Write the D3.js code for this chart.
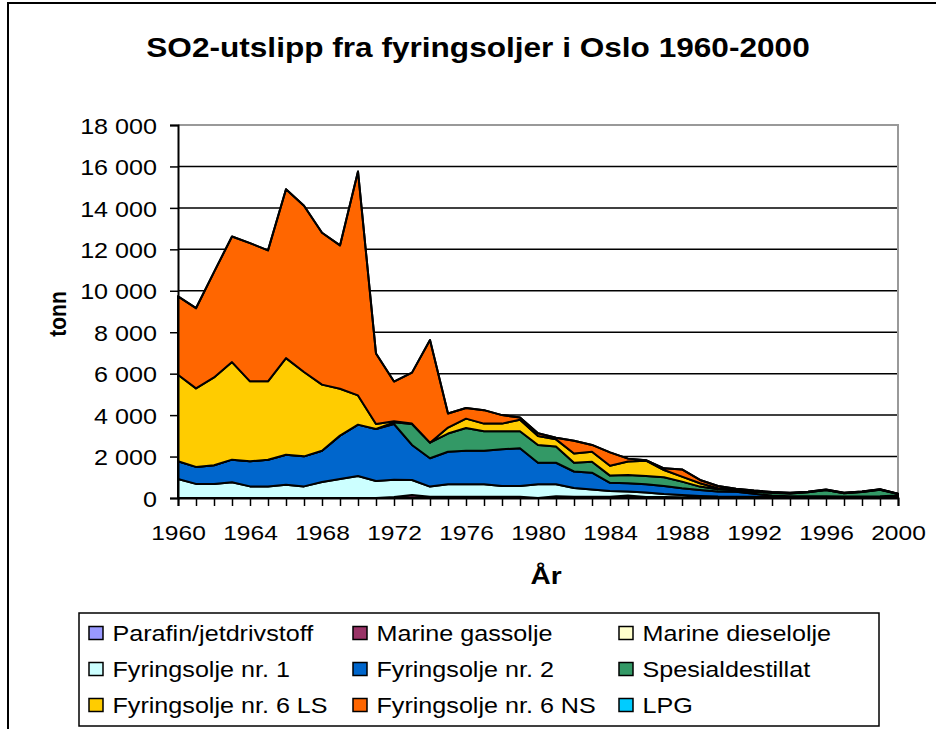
<!DOCTYPE html>
<html>
<head>
<meta charset="utf-8">
<script src="https://cdn.jsdelivr.net/npm/d3@7"></script>
<style>
  html, body { margin: 0; padding: 0; background: #fff; }
  svg text { font-family: "Liberation Sans", Arial, sans-serif; }
</style>
</head>
<body>
<svg id="chart" width="936" height="729"></svg>
<script>
const years = [1960,1961,1962,1963,1964,1965,1966,1967,1968,1969,1970,1971,1972,1973,1974,1975,1976,1977,1978,1979,1980,1981,1982,1983,1984,1985,1986,1987,1988,1989,1990,1991,1992,1993,1994,1995,1996,1997,1998,1999,2000];

const parafin      = [0,0,0,0,0,0,0,0,0,0,0,0,0,0,0,0,0,0,0,0,0,0,0,0,0,0,0,0,0,0,0,0,0,0,0,0,0,0,0,0,0];
const marineGass   = [0,0,0,0,0,0,0,0,0,0,0,0,50,150,60,60,60,60,60,60,0,80,60,60,60,120,50,50,40,30,30,30,30,20,20,20,20,20,20,20,20];
const marineDiesel = [0,0,0,0,0,0,0,0,0,0,0,0,0,0,0,0,0,0,0,0,0,0,0,0,0,0,0,0,0,0,0,0,0,0,0,0,0,0,0,0,0];
const fyr1         = [920,680,680,760,560,560,640,560,770,920,1060,820,830,720,490,600,600,600,520,520,660,580,420,350,280,190,210,140,100,70,40,30,30,30,30,30,30,30,30,40,80];
const fyr2         = [850,820,900,1090,1210,1290,1450,1450,1510,2090,2480,2510,2690,1690,1370,1570,1620,1620,1770,1820,1040,1040,800,810,390,400,400,390,330,290,240,240,140,70,30,30,30,20,20,20,20];
const spesial      = [0,0,0,0,0,0,0,0,0,0,0,0,80,1010,750,880,1100,940,870,820,860,780,420,530,350,400,400,420,320,160,110,80,100,130,140,200,300,160,220,320,70];
const fyr6LS       = [4180,3790,4240,4710,3860,3780,4660,4070,3190,2260,1410,240,50,20,0,290,450,370,370,560,430,350,450,480,480,650,740,350,240,160,50,40,30,20,10,10,10,10,10,10,10];
const fyr6NS       = [3780,3870,5080,6060,6670,6320,8150,8020,7330,6920,10810,3400,1920,2460,4950,680,510,650,410,110,130,80,610,330,640,140,20,80,350,160,110,30,30,20,20,10,20,10,10,10,10];
const lpg          = [0,0,0,0,0,0,0,0,0,0,0,0,0,0,0,0,0,0,0,0,0,0,0,0,0,0,0,0,0,0,0,0,0,0,0,0,0,0,0,0,0];

const seriesNames = ["Parafin/jetdrivstoff","Marine gassolje","Marine dieselolje","Fyringsolje nr. 1","Fyringsolje nr. 2","Spesialdestillat","Fyringsolje nr. 6 LS","Fyringsolje nr. 6 NS","LPG"];
const seriesColors = ["#9999FF","#993366","#FFFFCC","#CCFFFF","#0066CC","#339966","#FFCC00","#FF6600","#00CCFF"];
const seriesValues = [parafin, marineGass, marineDiesel, fyr1, fyr2, spesial, fyr6LS, fyr6NS, lpg];

const yTicks = [0,2000,4000,6000,8000,10000,12000,14000,16000,18000];
const xTickLabels = [1960,1964,1968,1972,1976,1980,1984,1988,1992,1996,2000];

const titleText = "SO2-utslipp fra fyringsoljer i Oslo 1960-2000";
const yTitle = "tonn";
const xTitle = "År";

const SX = 1.17; // horizontal stretch of the reference's lettering
const svg = d3.select("#chart");
const font = '"Liberation Sans", Arial, sans-serif';

// outer chart border
svg.append("rect").attr("x", 8).attr("y", 3).attr("width", 960).attr("height", 760)
  .attr("fill", "#fff").attr("stroke", "#000").attr("stroke-width", 2);

const x = d3.scaleLinear().domain([1960, 2000]).range([178, 898]);
const y = d3.scaleLinear().domain([0, 18000]).range([498, 125]);

// gridlines
svg.append("g").selectAll("line").data(yTicks.filter(d => d > 0 && d < 18000)).join("line")
  .attr("x1", x(1960)).attr("x2", x(2000)).attr("y1", d => y(d)).attr("y2", d => y(d))
  .attr("stroke", "#000").attr("stroke-width", 1.5);

// plot border (gray) top and right
svg.append("path")
  .attr("d", `M${x(1960)},${y(18000)}H${x(2000)}V${y(0)}`)
  .attr("fill", "none").attr("stroke", "#999").attr("stroke-width", 2);

// stacked data
const table = years.map((yr, i) => {
  const o = { year: yr };
  seriesNames.forEach((n, k) => { o[n] = seriesValues[k][i]; });
  return o;
});
const layers = d3.stack().keys(seriesNames)(table);

const area = d3.area()
  .x(d => x(d.data.year))
  .y0(d => y(d[0]))
  .y1(d => y(d[1]));

svg.append("g").selectAll("path").data(layers).join("path")
  .attr("d", area)
  .attr("fill", (d, i) => seriesColors[i])
  .attr("stroke", "#000").attr("stroke-width", 2).attr("stroke-linejoin", "round");

// y axis
const yAxis = d3.axisLeft(y).tickValues(yTicks).tickSize(8)
  .tickFormat(d => d3.format(",")(d).replace(/,/g, " "));
const gy = svg.append("g").attr("transform", `translate(${x(1960)},0)`).call(yAxis);
gy.select(".domain").attr("stroke", "#000").attr("stroke-width", 2);
gy.selectAll(".tick line").attr("stroke", "#000").attr("stroke-width", 1.5);
gy.selectAll(".tick text")
  .attr("x", 0).attr("dy", "0.38em")
  .attr("transform", `translate(-21,0) scale(${SX},1)`)
  .attr("text-anchor", "end")
  .attr("font-family", font).attr("font-size", 21.5).attr("fill", "#000");

// x axis
const xAxis = d3.axisBottom(x).tickValues(years).tickSize(8).tickPadding(19)
  .tickFormat(d => xTickLabels.includes(d) ? String(d) : "");
const gx = svg.append("g").attr("transform", `translate(0,${y(0)})`).call(xAxis);
gx.select(".domain").attr("stroke", "#000").attr("stroke-width", 2);
gx.selectAll(".tick line").attr("stroke", "#000").attr("stroke-width", 1.5);
gx.selectAll(".tick text")
  .attr("transform", `scale(${SX},1)`)
  .attr("font-family", font).attr("font-size", 21).attr("fill", "#000");

// title
svg.append("text").attr("transform", `translate(478,57) scale(${SX},1)`).attr("text-anchor", "middle")
  .attr("font-family", font).attr("font-size", 27).attr("font-weight", "bold").text(titleText);

// axis titles
svg.append("text").attr("transform", `translate(57,314) scale(${SX},1) rotate(-90)`)
  .attr("text-anchor", "middle").attr("dy", "0.35em")
  .attr("font-family", font).attr("font-size", 21).attr("font-weight", "bold").text(yTitle);
svg.append("text").attr("transform", `translate(546,584) scale(${SX},1)`).attr("text-anchor", "middle")
  .attr("font-family", font).attr("font-size", 24).attr("font-weight", "bold").text(xTitle);

// legend
const lg = svg.append("g");
lg.append("rect").attr("x", 79).attr("y", 613).attr("width", 800).attr("height", 113)
  .attr("fill", "#fff").attr("stroke", "#000").attr("stroke-width", 1.5);
const colX = [89, 353, 619];
const rowY = [633, 669, 705];
seriesNames.forEach((n, i) => {
  const cx = colX[i % 3], cy = rowY[Math.floor(i / 3)];
  lg.append("rect").attr("x", cx).attr("y", cy - 6.5).attr("width", 14).attr("height", 13)
    .attr("fill", seriesColors[i]).attr("stroke", "#000").attr("stroke-width", 1.5);
  lg.append("text").attr("transform", `translate(${cx + 23.5},${cy}) scale(${SX},1)`)
    .attr("dy", "0.35em")
    .attr("font-family", font).attr("font-size", 21.5).text(n);
});
</script>
</body>
</html>
